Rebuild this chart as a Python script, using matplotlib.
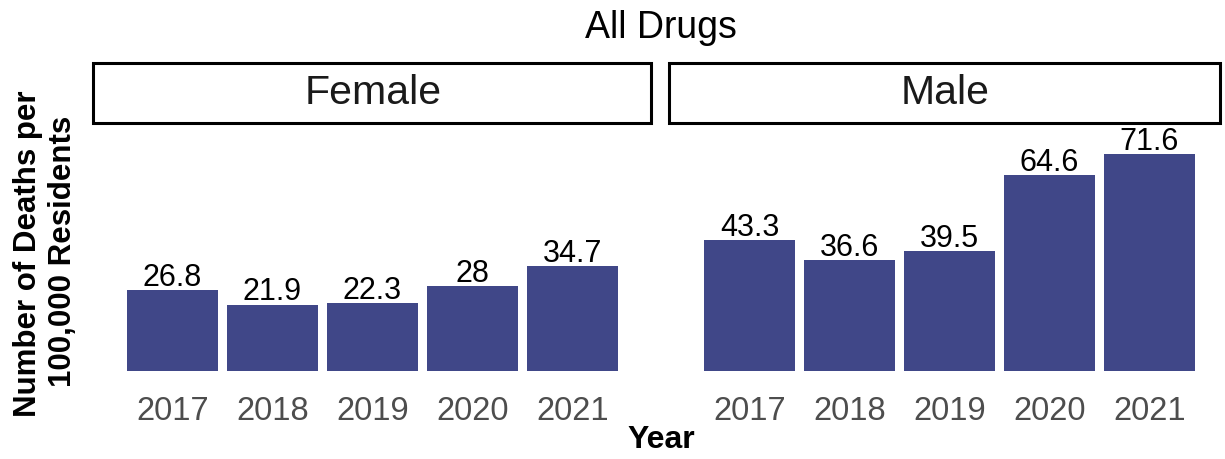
import matplotlib
matplotlib.use("Agg")
import matplotlib.pyplot as plt
from matplotlib.patches import Rectangle

# Daten
years = ["2017", "2018", "2019", "2020", "2021"]
female = [26.8, 21.9, 22.3, 28, 34.7]
male = [43.3, 36.6, 39.5, 64.6, 71.6]
panels = ["Female", "Male"]

bar_color = "#404788"
plt.rcParams["font.family"] = ["Liberation Sans", "DejaVu Sans"]

W, H = 1225, 459
fig = plt.figure(figsize=(W / 100, H / 100), dpi=100)


def fx(x):
    return x / W


def fy(y):
    return 1 - y / H


# Pixelbereiche der beiden Panels (links, rechts, Balkenabstand, erste Mitte, Balkenbreite)
layout = [(93, 653, 100, 172.5, 0.91), (669, 1222, 100, 749.5, 0.91)]
top, bottom = 123, 382
base = 371
scale = 3.03  # px pro Einheit

for name, vals, (x0, x1, step, c0, bw) in zip(panels, [female, male], layout):
    ax = fig.add_axes([fx(x0), fy(bottom), (x1 - x0) / W, (bottom - top) / H])
    pos = list(range(len(years)))
    ax.bar(pos, vals, width=bw, color=bar_color)
    ax.set_xlim(-(c0 - x0) / step, (x1 - c0) / step)
    ax.set_ylim(-(bottom - base) / scale, (base - top) / scale)
    for p, v in zip(pos, vals):
        lab = ("%g" % v)
        ax.annotate(lab, (p, v), xytext=(0, 3), textcoords="offset points",
                    ha="center", va="baseline", fontsize=22, color="black")
    ax.set_xticks(pos)
    ax.set_xticklabels(years, fontsize=23.5, color="#4d4d4d")
    ax.tick_params(axis="x", length=0, pad=10)
    ax.set_yticks([])
    for s in ax.spines.values():
        s.set_visible(False)
    # Streifen oben
    fig.add_artist(Rectangle((fx(x0), fy(123)), (x1 - x0 - 2) / W, 60 / H,
                             transform=fig.transFigure, fill=False,
                             edgecolor="black", linewidth=2.2))
    fig.text(fx((x0 + x1) / 2), fy(93), name, ha="center", va="center",
             fontsize=29.5, color="#1a1a1a")

# Titel und Achsenbeschriftungen
fig.text(fx(661), fy(38), "All Drugs", ha="center", va="baseline", fontsize=27)
fig.text(fx(661), fy(448), "Year", ha="center", va="baseline", fontsize=23,
         fontweight="bold")
fig.text(fx(36), fy(254), "Number of Deaths per", rotation=90,
         rotation_mode="anchor", ha="center", va="baseline", fontsize=22.5,
         fontweight="bold")
fig.text(fx(71), fy(251), "100,000 Residents", rotation=90,
         rotation_mode="anchor", ha="center", va="baseline", fontsize=22.5,
         fontweight="bold")

fig.savefig("out.png", dpi=100)
